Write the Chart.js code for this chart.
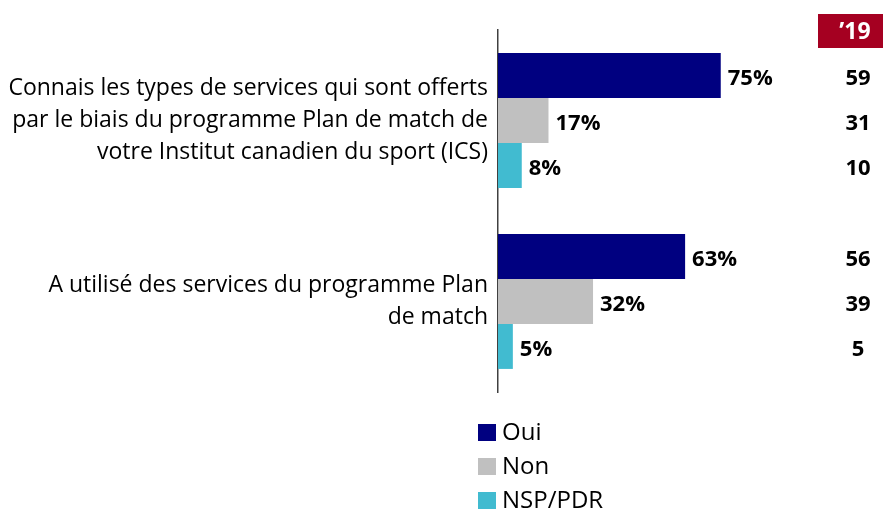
<!DOCTYPE html>
<html>
<head>
<meta charset="utf-8">
<script src="https://cdn.jsdelivr.net/npm/chart.js@4/dist/chart.umd.min.js"></script>
<style>
  html, body { margin: 0; padding: 0; background: #fff; }
  #wrap { width: 883px; height: 512px; position: relative; }
</style>
</head>
<body>
<div id="wrap"><canvas id="chart"></canvas></div>
<script>
// data
const categories = [
  ['Connais les types de services qui sont offerts', 'par le biais du programme Plan de match de', 'votre Institut canadien du sport (ICS)'],
  ['A utilisé des services du programme Plan', 'de match']
];
const seriesNames = ['Oui', 'Non', 'NSP/PDR'];
const seriesColors = ['#000080', '#c0c0c0', '#41bbd0'];
const oui = [75, 63];
const non = [17, 32];
const nsp = [8, 5];
const prev2019 = [[59, 56], [31, 39], [10, 5]]; // per series, per category
const prevHeader = '\u201919';

const FONT = '"Open Sans", sans-serif';

// value labels + 2019 column + header box + legend
const extrasPlugin = {
  id: 'extras',
  afterDatasetsDraw(chart) {
    const ctx = chart.ctx;
    ctx.save();
    ctx.textBaseline = 'middle';
    chart.data.datasets.forEach((ds, i) => {
      const meta = chart.getDatasetMeta(i);
      meta.data.forEach((bar, j) => {
        ctx.font = 'bold 22px ' + FONT;
        ctx.fillStyle = '#000';
        ctx.textAlign = 'left';
        ctx.fillText(ds.data[j] + '%', bar.x + 7, bar.y + 3);
        ctx.textAlign = 'center';
        ctx.fillText(String(prev2019[i][j]), 858, bar.y + 3);
      });
    });

    // '19 header
    ctx.fillStyle = '#a50021';
    ctx.fillRect(818, 14, 65, 34);
    ctx.fillStyle = '#fff';
    ctx.font = 'bold 23px ' + FONT;
    ctx.textAlign = 'center';
    ctx.fillText(prevHeader, 855, 32);

    // vertical legend
    ctx.font = '24px ' + FONT;
    ctx.textAlign = 'left';
    chart.data.datasets.forEach((ds, i) => {
      const y = 432 + i * 34;
      ctx.fillStyle = ds.backgroundColor;
      ctx.fillRect(478, y - 8, 18, 17);
      ctx.fillStyle = '#000';
      ctx.fillText(ds.label, 502, y + 1);
    });
    ctx.restore();
  }
};

new Chart(document.getElementById('chart'), {
  type: 'bar',
  data: {
    labels: categories,
    datasets: [
      { label: seriesNames[0], data: oui, backgroundColor: seriesColors[0] },
      { label: seriesNames[1], data: non, backgroundColor: seriesColors[1] },
      { label: seriesNames[2], data: nsp, backgroundColor: seriesColors[2] }
    ]
  },
  options: {
    indexAxis: 'y',
    responsive: true,
    maintainAspectRatio: false,
    animation: false,
    layout: { padding: { left: 0, right: 88, top: 30, bottom: 120 } },
    datasets: {
      bar: { barPercentage: 1, categoryPercentage: 0.745 }
    },
    plugins: {
      legend: { display: false },
      tooltip: { enabled: false }
    },
    scales: {
      x: {
        display: false,
        min: 0,
        max: 100
      },
      y: {
        grid: { display: false, drawTicks: false },
        border: { display: true, color: '#404040', width: 1.5 },
        ticks: {
          color: '#000',
          padding: 10,
          font: { family: FONT, size: 23, lineHeight: 1.39 }
        },
        afterFit(scale) {
          scale.width = 498;
          scale.paddingTop = 0;
          scale.paddingBottom = 0;
        }
      }
    }
  },
  plugins: [extrasPlugin]
});
</script>
</body>
</html>
